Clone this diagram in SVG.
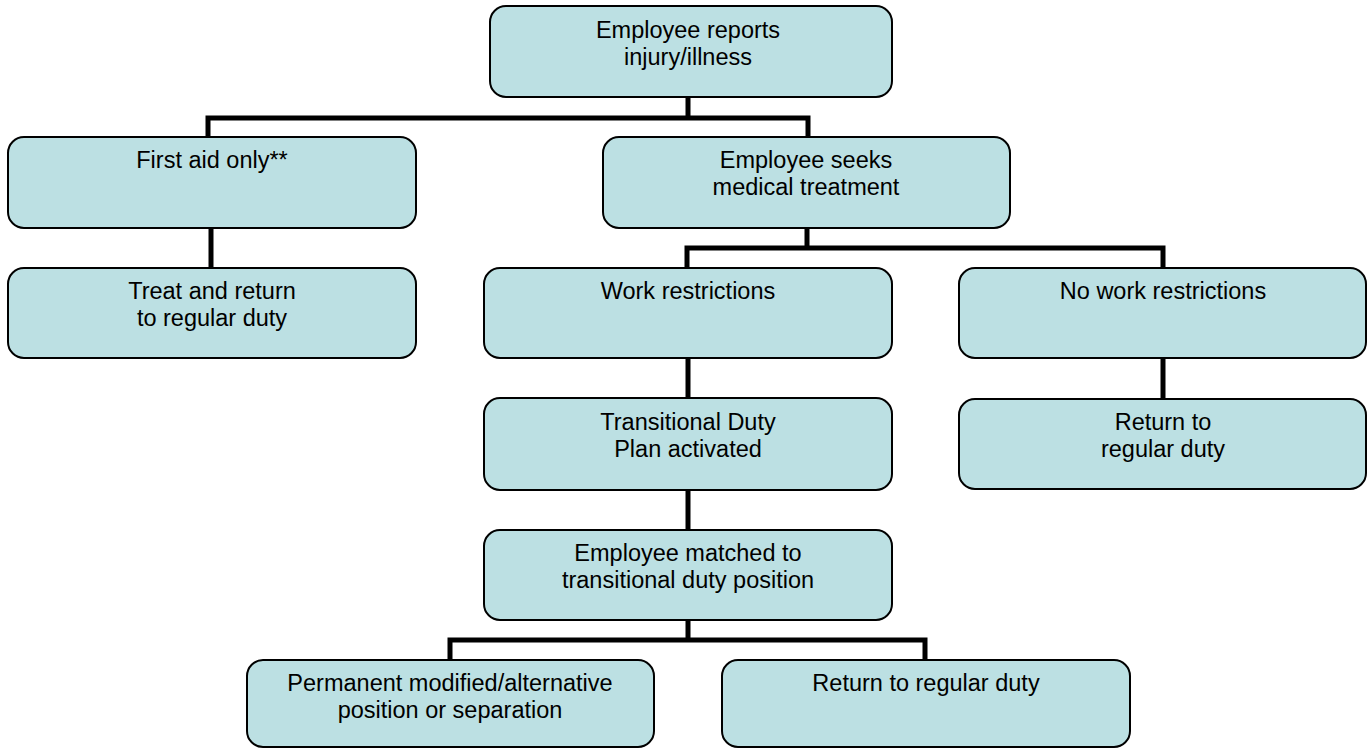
<svg xmlns="http://www.w3.org/2000/svg" width="1370" height="748" viewBox="0 0 1370 748">
<style>
.box{fill:#BCE0E3;stroke:#000;stroke-width:2}
.t{font-family:"Liberation Sans",Arial,sans-serif;font-size:23.5px;fill:#000;text-anchor:middle}
.c{fill:none;stroke:#000;stroke-width:5;stroke-linejoin:miter;stroke-linecap:butt}
</style>
<rect width="1370" height="748" fill="#fff"/>
<g id="connectors">
<path class="c" d="M688 97V118M208 137V118H808V137"/>
<path class="c" d="M211 228V268"/>
<path class="c" d="M807 228V248M687 268V248H1163V268"/>
<path class="c" d="M688 358V398"/>
<path class="c" d="M1163 358V399"/>
<path class="c" d="M688 490V530"/>
<path class="c" d="M688 620V640M450 660V640H925V660"/>
</g>
<g id="n1"><rect class="box" x="490" y="6" width="402" height="91" rx="16"/><text class="t" x="688" y="38">Employee reports</text><text class="t" x="688" y="65">injury/illness</text></g>
<g id="n2"><rect class="box" x="8" y="137" width="408" height="91" rx="16"/><text class="t" x="212" y="168">First aid only**</text></g>
<g id="n3"><rect class="box" x="603" y="137" width="407" height="91" rx="16"/><text class="t" x="806" y="168">Employee seeks</text><text class="t" x="806" y="195">medical treatment</text></g>
<g id="n4"><rect class="box" x="8" y="268" width="408" height="90" rx="16"/><text class="t" x="212" y="299">Treat and return</text><text class="t" x="212" y="326">to regular duty</text></g>
<g id="n5"><rect class="box" x="484" y="268" width="408" height="90" rx="16"/><text class="t" x="688" y="299">Work restrictions</text></g>
<g id="n6"><rect class="box" x="959" y="268" width="407" height="90" rx="16"/><text class="t" x="1163" y="299">No work restrictions</text></g>
<g id="n7"><rect class="box" x="484" y="398" width="408" height="92" rx="16"/><text class="t" x="688" y="430">Transitional Duty</text><text class="t" x="688" y="457">Plan activated</text></g>
<g id="n8"><rect class="box" x="959" y="399" width="407" height="90" rx="16"/><text class="t" x="1163" y="430">Return to</text><text class="t" x="1163" y="457">regular duty</text></g>
<g id="n9"><rect class="box" x="484" y="530" width="408" height="90" rx="16"/><text class="t" x="688" y="561">Employee matched to</text><text class="t" x="688" y="588">transitional duty position</text></g>
<g id="n10"><rect class="box" x="247" y="660" width="407" height="87" rx="16"/><text class="t" x="450" y="691">Permanent modified/alternative</text><text class="t" x="450" y="718">position or separation</text></g>
<g id="n11"><rect class="box" x="722" y="660" width="408" height="87" rx="16"/><text class="t" x="926" y="691">Return to regular duty</text></g>
</svg>
